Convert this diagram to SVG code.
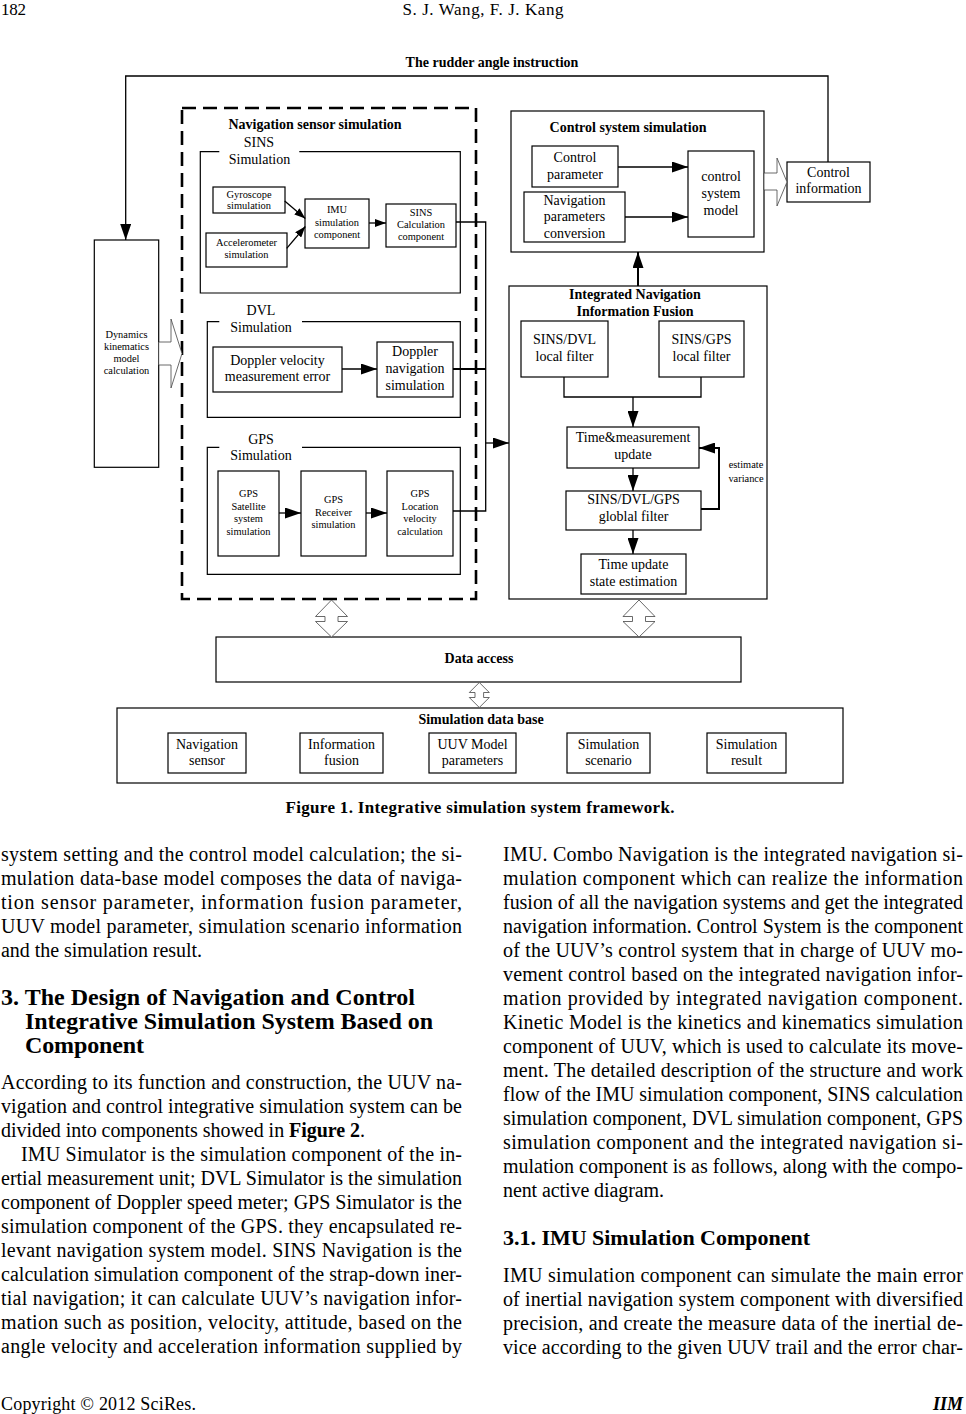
<svg xmlns="http://www.w3.org/2000/svg" width="966" height="1414" viewBox="0 0 966 1414">
<style>
text{font-family:"Liberation Serif","Times New Roman",serif;fill:#000}
.c{text-anchor:middle;font-size:14px}
.s{text-anchor:middle;font-size:10.4px}
.b{text-anchor:middle;font-size:14px;font-weight:bold}
.bx{fill:#fff;stroke:#000;stroke-width:1.2}
.fr{fill:none;stroke:#000;stroke-width:1.2}
.ln{fill:none;stroke:#000;stroke-width:1.3}
.tk{fill:none;stroke:#000;stroke-width:2}
.ha{fill:#fff;stroke:#444;stroke-width:0.8}
.body{font-size:20px}
.h1{font-size:24px;font-weight:bold}
.h2{font-size:22px;font-weight:bold}
</style>
<defs>
<marker id="ah" markerUnits="userSpaceOnUse" markerWidth="16" markerHeight="11" refX="16" refY="5.5" orient="auto"><path d="M0,0 L16,5.5 L0,11 z" fill="#000"/></marker>
<marker id="as" markerUnits="userSpaceOnUse" markerWidth="11" markerHeight="8" refX="11" refY="4" orient="auto"><path d="M0,0 L11,4 L0,8 z" fill="#000"/></marker>
</defs>
<rect width="966" height="1414" fill="#fff"/>

<!-- page header -->
<text x="1" y="15" style="font-size:17px" textLength="25">182</text>
<text x="483" y="15" style="font-size:17px;text-anchor:middle" textLength="161">S. J. Wang, F. J. Kang</text>

<!-- nodes -->
<g id="dynamics">
<rect class="bx" x="94.3" y="240" width="64.4" height="227.3"/>
<text class="s" x="126.5" y="338">Dynamics</text>
<text class="s" x="126.5" y="350">kinematics</text>
<text class="s" x="126.5" y="362">model</text>
<text class="s" x="126.5" y="374">calculation</text>
</g>

<g id="nav-sensor-sim">
<rect x="182" y="108" width="294" height="491" fill="none" stroke="#000" stroke-width="2.6" stroke-dasharray="14 7"/>
<text class="b" x="315" y="129">Navigation sensor simulation</text>
</g>

<g id="sins-sim">
<path class="fr" d="M219.3,151.7 H200.3 V293 H460.3 V151.7 H299.3"/>
<text class="c" x="259" y="147">SINS</text>
<text class="c" x="259.5" y="164">Simulation</text>
</g>
<g id="gyro">
<rect class="bx" x="213" y="187" width="72" height="26"/>
<text class="s" x="249" y="197.5">Gyroscope</text>
<text class="s" x="249" y="209">simulation</text>
</g>
<g id="accel">
<rect class="bx" x="206" y="233" width="81" height="34"/>
<text class="s" x="246.5" y="246">Accelerometer</text>
<text class="s" x="246.5" y="257.5">simulation</text>
</g>
<g id="imu">
<rect class="bx" x="305" y="199" width="64" height="49"/>
<text class="s" x="337" y="213">IMU</text>
<text class="s" x="337" y="225.5">simulation</text>
<text class="s" x="337" y="238">component</text>
</g>
<g id="sins-calc">
<rect class="bx" x="386" y="204" width="70" height="43"/>
<text class="s" x="421" y="215.5">SINS</text>
<text class="s" x="421" y="227.5">Calculation</text>
<text class="s" x="421" y="239.5">component</text>
</g>

<g id="dvl-sim">
<path class="fr" d="M219.3,321.7 H207.3 V417.3 H460.3 V321.7 H302"/>
<text class="c" x="261" y="315">DVL</text>
<text class="c" x="261" y="332">Simulation</text>
</g>
<g id="doppler-error">
<rect class="bx" x="213" y="347" width="129" height="45"/>
<text class="c" x="277.5" y="365">Doppler velocity</text>
<text class="c" x="277.5" y="381">measurement error</text>
</g>
<g id="doppler-nav">
<rect class="bx" x="377" y="342" width="76" height="55"/>
<text class="c" x="415" y="356">Doppler</text>
<text class="c" x="415" y="373">navigation</text>
<text class="c" x="415" y="390">simulation</text>
</g>

<g id="gps-sim">
<path class="fr" d="M219.3,447.3 H207.3 V574.3 H460.3 V447.3 H302"/>
<text class="c" x="261" y="444">GPS</text>
<text class="c" x="261" y="460">Simulation</text>
</g>
<g id="gps-satellite">
<rect class="bx" x="218" y="471" width="61" height="85"/>
<text class="s" x="248.5" y="497">GPS</text>
<text class="s" x="248.5" y="509.5">Satellite</text>
<text class="s" x="248.5" y="522">system</text>
<text class="s" x="248.5" y="535">simulation</text>
</g>
<g id="gps-receiver">
<rect class="bx" x="301" y="471" width="65" height="85"/>
<text class="s" x="333.5" y="503">GPS</text>
<text class="s" x="333.5" y="516">Receiver</text>
<text class="s" x="333.5" y="528">simulation</text>
</g>
<g id="gps-location">
<rect class="bx" x="387" y="471" width="66" height="85"/>
<text class="s" x="420" y="497">GPS</text>
<text class="s" x="420" y="509.5">Location</text>
<text class="s" x="420" y="522">velocity</text>
<text class="s" x="420" y="535">calculation</text>
</g>

<g id="control-sim">
<rect class="bx" x="511" y="111" width="253" height="141"/>
<text class="b" x="628" y="132">Control system simulation</text>
</g>
<g id="control-param">
<rect class="bx" x="532" y="146" width="86" height="41"/>
<text class="c" x="575" y="162">Control</text>
<text class="c" x="575" y="179">parameter</text>
</g>
<g id="nav-param-conv">
<rect class="bx" x="524" y="192" width="101" height="50"/>
<text class="c" x="574.5" y="204.5">Navigation</text>
<text class="c" x="574.5" y="221">parameters</text>
<text class="c" x="574.5" y="237.5">conversion</text>
</g>
<g id="control-model">
<rect class="bx" x="688" y="151" width="66" height="86"/>
<text class="c" x="721" y="181">control</text>
<text class="c" x="721" y="198">system</text>
<text class="c" x="721" y="215">model</text>
</g>
<g id="control-info">
<rect class="bx" x="787" y="162" width="83" height="40"/>
<text class="c" x="828.5" y="177">Control</text>
<text class="c" x="828.5" y="193">information</text>
</g>

<g id="integrated-nav">
<rect class="bx" x="509" y="286" width="258" height="313"/>
<text class="b" x="635" y="298.5">Integrated Navigation</text>
<text class="b" x="635" y="316">Information Fusion</text>
</g>
<g id="sins-dvl-filter">
<rect class="bx" x="521" y="321" width="87" height="56"/>
<text class="c" x="564.5" y="344">SINS/DVL</text>
<text class="c" x="564.5" y="361">local filter</text>
</g>
<g id="sins-gps-filter">
<rect class="bx" x="659" y="321" width="85" height="56"/>
<text class="c" x="701.5" y="344">SINS/GPS</text>
<text class="c" x="701.5" y="361">local filter</text>
</g>
<g id="time-meas-update">
<rect class="bx" x="567" y="427" width="132" height="41"/>
<text class="c" x="633" y="442">Time&amp;measurement</text>
<text class="c" x="633" y="459">update</text>
</g>
<g id="global-filter">
<rect class="bx" x="566" y="491" width="135" height="39"/>
<text class="c" x="633.5" y="504">SINS/DVL/GPS</text>
<text class="c" x="633.5" y="521">globlal filter</text>
</g>
<g id="time-update">
<rect class="bx" x="581" y="554" width="105" height="40"/>
<text class="c" x="633.5" y="569">Time update</text>
<text class="c" x="633.5" y="585.5">state estimation</text>
</g>

<g id="data-access">
<rect class="bx" x="216" y="637" width="525" height="45"/>
<text class="b" x="479" y="663">Data access</text>
</g>
<g id="sim-database">
<rect class="bx" x="117" y="708" width="726" height="75"/>
<text class="b" x="481" y="723.5">Simulation data base</text>
</g>
<g id="db-nav-sensor">
<rect class="bx" x="168" y="733" width="78" height="40"/>
<text class="c" x="207" y="748.5">Navigation</text>
<text class="c" x="207" y="764.5">sensor</text>
</g>
<g id="db-info-fusion">
<rect class="bx" x="300" y="733" width="83" height="40"/>
<text class="c" x="341.5" y="748.5">Information</text>
<text class="c" x="341.5" y="764.5">fusion</text>
</g>
<g id="db-uuv-model">
<rect class="bx" x="429" y="733" width="87" height="40"/>
<text class="c" x="472.5" y="748.5">UUV Model</text>
<text class="c" x="472.5" y="764.5">parameters</text>
</g>
<g id="db-scenario">
<rect class="bx" x="567" y="733" width="83" height="40"/>
<text class="c" x="608.5" y="748.5">Simulation</text>
<text class="c" x="608.5" y="764.5">scenario</text>
</g>
<g id="db-result">
<rect class="bx" x="707" y="733" width="79" height="40"/>
<text class="c" x="746.5" y="748.5">Simulation</text>
<text class="c" x="746.5" y="764.5">result</text>
</g>

<!-- connectors -->
<g id="connectors">
<polyline class="ln" points="828,162 828,76 125.7,76 125.7,240" marker-end="url(#ah)"/>
<text class="b" x="492" y="67">The rudder angle instruction</text>

<line class="ln" x1="284.7" y1="201" x2="305.3" y2="218.5" marker-end="url(#as)"/>
<line class="ln" x1="286.7" y1="248.3" x2="305.3" y2="226.5" marker-end="url(#as)"/>
<line class="ln" x1="369" y1="223" x2="386" y2="223" marker-end="url(#as)"/>

<line class="ln" x1="342" y1="369" x2="377" y2="369" marker-end="url(#ah)"/>
<line class="ln" x1="279" y1="513" x2="301" y2="513" marker-end="url(#ah)"/>
<line class="ln" x1="366" y1="513" x2="387" y2="513" marker-end="url(#ah)"/>

<polyline class="ln" points="456,222 485.7,222 485.7,511 453,511"/>
<line class="tk" x1="453" y1="369" x2="485.7" y2="369"/>
<line class="ln" x1="485.7" y1="443" x2="509" y2="443" marker-end="url(#ah)"/>

<polyline class="ln" points="564,377 564,397 701,397 701,377"/>
<line class="ln" x1="633" y1="397" x2="633" y2="427" marker-end="url(#ah)"/>
<line class="ln" x1="633" y1="468" x2="633" y2="491" marker-end="url(#ah)"/>
<line class="ln" x1="633" y1="530" x2="633" y2="554" marker-end="url(#ah)"/>
<polyline class="tk" points="701,509 719,509 719,448 699,448" marker-end="url(#ah)"/>
<text class="s" x="746" y="468">estimate</text>
<text class="s" x="746" y="482">variance</text>

<line class="tk" x1="638" y1="286" x2="638" y2="252" marker-end="url(#ah)"/>
<line class="ln" x1="618" y1="167" x2="688" y2="167" marker-end="url(#ah)"/>
<line class="ln" x1="625" y1="217" x2="688" y2="217" marker-end="url(#ah)"/>

<polygon class="ha" points="158.7,342 171,342 171,319 182,353.5 171,388 171,365 158.7,365"/>
<polygon class="ha" points="764,173 777,173 777,158 787,182 777,206 777,190 764,190"/>

<polygon class="ha" points="331.5,600 315.5,616.5 325,616.5 325,621.5 315.5,621.5 331.5,637 347.5,621.5 338,621.5 338,616.5 347.5,616.5"/>
<polygon class="ha" points="639,600 623,616.5 632.5,616.5 632.5,621.5 623,621.5 639,637 655,621.5 645.5,621.5 645.5,616.5 655,616.5"/>
<polygon class="ha" points="479.3,682.5 469.3,692.5 475,692.5 475,697.5 469.3,697.5 479.3,707.5 489.3,697.5 483.6,697.5 483.6,692.5 489.3,692.5"/>
</g>

<text x="480" y="813" style="font-size:17px;font-weight:bold;text-anchor:middle" textLength="389">Figure 1. Integrative simulation system framework.</text>

<!-- left column -->
<g id="left-column" class="body">
<text class="body" x="1" y="861" textLength="461">system setting and the control model calculation; the si-</text>
<text class="body" x="1" y="884.5" textLength="461">mulation data-base model composes the data of naviga-</text>
<text class="body" x="1" y="908.5" textLength="461">tion sensor parameter, information fusion parameter,</text>
<text class="body" x="1" y="932.5" textLength="461">UUV model parameter, simulation scenario information</text>
<text class="body" x="1" y="956.5" textLength="201">and the simulation result.</text>
<text class="h1" x="1" y="1005" textLength="414">3. The Design of Navigation and Control</text>
<text class="h1" x="25" y="1029" textLength="408">Integrative Simulation System Based on</text>
<text class="h1" x="25" y="1053" textLength="119">Component</text>
<text class="body" x="1" y="1089" textLength="461">According to its function and construction, the UUV na-</text>
<text class="body" x="1" y="1113" textLength="461">vigation and control integrative simulation system can be</text>
<text class="body" x="1" y="1137" textLength="364">divided into components showed in <tspan font-weight="bold">Figure 2</tspan>.</text>
<text class="body" x="21" y="1161" textLength="441">IMU Simulator is the simulation component of the in-</text>
<text class="body" x="1" y="1184.5" textLength="461">ertial measurement unit; DVL Simulator is the simulation</text>
<text class="body" x="1" y="1208.5" textLength="461">component of Doppler speed meter; GPS Simulator is the</text>
<text class="body" x="1" y="1232.5" textLength="461">simulation component of the GPS. they encapsulated re-</text>
<text class="body" x="1" y="1256.5" textLength="461">levant navigation system model. SINS Navigation is the</text>
<text class="body" x="1" y="1280.5" textLength="461">calculation simulation component of the strap-down iner-</text>
<text class="body" x="1" y="1304.5" textLength="461">tial navigation; it can calculate UUV’s navigation infor-</text>
<text class="body" x="1" y="1328.5" textLength="461">mation such as position, velocity, attitude, based on the</text>
<text class="body" x="1" y="1352.5" textLength="461">angle velocity and acceleration information supplied by</text>
</g>

<!-- right column -->
<g id="right-column">
<text class="body" x="503" y="861" textLength="460">IMU. Combo Navigation is the integrated navigation si-</text>
<text class="body" x="503" y="884.5" textLength="460">mulation component which can realize the information</text>
<text class="body" x="503" y="908.5" textLength="460">fusion of all the navigation systems and get the integrated</text>
<text class="body" x="503" y="932.5" textLength="460">navigation information. Control System is the component</text>
<text class="body" x="503" y="956.5" textLength="460">of the UUV’s control system that in charge of UUV mo-</text>
<text class="body" x="503" y="980.5" textLength="460">vement control based on the integrated navigation infor-</text>
<text class="body" x="503" y="1004.5" textLength="460">mation provided by integrated navigation component.</text>
<text class="body" x="503" y="1028.5" textLength="460">Kinetic Model is the kinetics and kinematics simulation</text>
<text class="body" x="503" y="1052.5" textLength="460">component of UUV, which is used to calculate its move-</text>
<text class="body" x="503" y="1076.5" textLength="460">ment. The detailed description of the structure and work</text>
<text class="body" x="503" y="1100.5" textLength="460">flow of the IMU simulation component, SINS calculation</text>
<text class="body" x="503" y="1124.5" textLength="460">simulation component, DVL simulation component, GPS</text>
<text class="body" x="503" y="1148.5" textLength="460">simulation component and the integrated navigation si-</text>
<text class="body" x="503" y="1172.5" textLength="460">mulation component is as follows, along with the compo-</text>
<text class="body" x="503" y="1196.5" textLength="161">nent active diagram.</text>
<text class="h2" x="503" y="1245" textLength="307">3.1. IMU Simulation Component</text>
<text class="body" x="503" y="1282" textLength="460">IMU simulation component can simulate the main error</text>
<text class="body" x="503" y="1306" textLength="460">of inertial navigation system component with diversified</text>
<text class="body" x="503" y="1329.5" textLength="460">precision, and create the measure data of the inertial de-</text>
<text class="body" x="503" y="1353.5" textLength="460">vice according to the given UUV trail and the error char-</text>
</g>

<!-- footer -->
<text x="1" y="1410" style="font-size:18px" textLength="195">Copyright © 2012 SciRes.</text>
<text x="963" y="1410" style="font-size:18px;font-weight:bold;font-style:italic;text-anchor:end">IIM</text>
</svg>
